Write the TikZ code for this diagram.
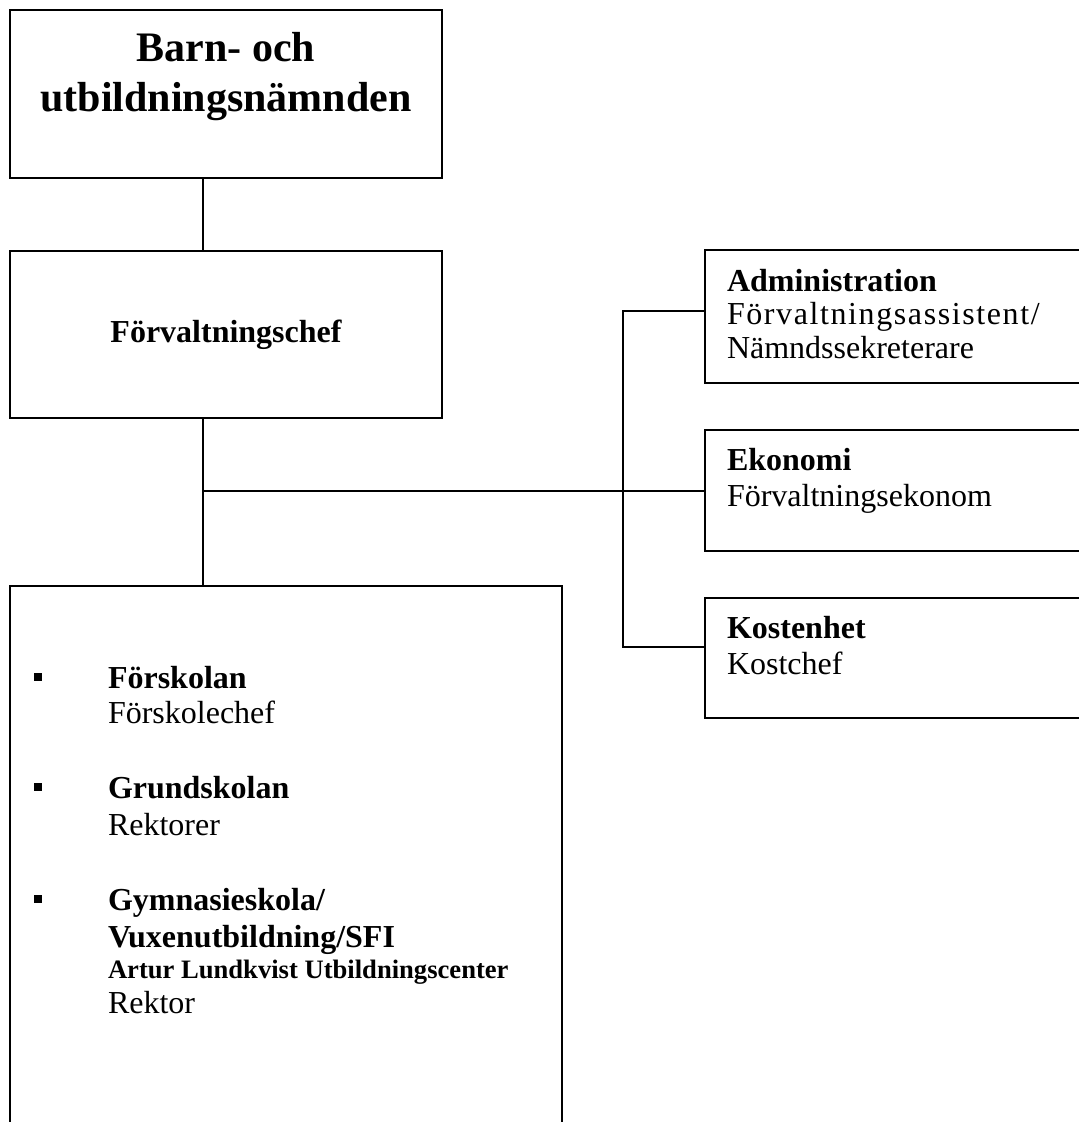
\documentclass[tikz,border=0pt]{standalone}
\usepackage{fontspec}
\setmainfont{Liberation Serif}
\newfontfamily\gles[LetterSpace=5]{Liberation Serif}
\newcommand{\rubrik}{\fontsize{21}{25}\selectfont\bfseries}
\newcommand{\brod}{\fontsize{16}{18}\selectfont}
\newcommand{\liten}{\fontsize{13.3}{15}\selectfont\bfseries}
\tikzset{
	ruta/.style={draw, line width=1pt, inner sep=0pt, outer sep=0pt, anchor=north west},
	rad/.style={anchor=base west, inner sep=0pt, font=\brod},
	fet/.style={anchor=base west, inner sep=0pt, font=\brod\bfseries},
	punkt/.style={fill, minimum size=4pt, inner sep=0pt},
}

\begin{document}
\begin{tikzpicture}[x=0.5pt, y=-0.5pt, line width=1pt]
	\useasboundingbox (0,0) rectangle (1079,1122);
	\clip (0,0) rectangle (1079,1122);
	% nämnd och chef
	\node[ruta, minimum width=216pt, minimum height=84pt] (namnd) at (10,10) {};
	\node[anchor=base, font=\rubrik] (namnd1) at (226,62) {Barn- och};
	\node[anchor=base, font=\rubrik] (namnd2) at (226,112) {utbildningsnämnden};
	\node[ruta, minimum width=216pt, minimum height=83.5pt, font=\brod\bfseries] (chef) at (10,251) {Förvaltningschef};
	% skolor
	\node[ruta, minimum width=276pt, minimum height=280pt] (skolor) at (10,586) {};
	\node[punkt] (p1) at (38,677) {};
	\node[punkt] (p2) at (38,787) {};
	\node[punkt] (p3) at (38,899) {};
	\node[fet] (fsk) at (107,688) {Förskolan};
	\node[rad] (fskchef) at (107,723) {Förskolechef};
	\node[fet] (gsk) at (107,798) {Grundskolan};
	\node[rad] (rektorer) at (107,835) {Rektorer};
	\node[fet] (gym) at (107,910) {Gymnasieskola/};
	\node[fet] (vux) at (107,947) {Vuxenutbildning/SFI};
	\node[anchor=base west, inner sep=0pt, font=\liten] (alu) at (107,978) {Artur Lundkvist Utbildningscenter};
	\node[rad] (rektor) at (107,1013) {Rektor};
	% stab
	\node[ruta, minimum width=200pt, minimum height=66.5pt] (admin) at (705,250) {};
	\node[fet] (admin1) at (726,292) {Administration};
	\node[rad, font=\brod\gles] (admin2) at (726,325) {Förvaltningsassistent/};
	\node[rad] (admin3) at (726,359) {Nämndssekreterare};
	\node[ruta, minimum width=200pt, minimum height=60.5pt] (eko) at (705,430) {};
	\node[fet] (eko1) at (726,470) {Ekonomi};
	\node[rad] (eko2) at (726,506) {Förvaltningsekonom};
	\node[ruta, minimum width=200pt, minimum height=60pt] (kost) at (705,598) {};
	\node[fet] (kost1) at (726,638) {Kostenhet};
	\node[rad] (kost2) at (726,674) {Kostchef};
	% linjer
	\coordinate (stam) at (203,0);
	\coordinate (buss1) at (623,311);
	\coordinate (buss2) at (623,647);
	\draw (namnd.south -| stam) -- (chef.north -| stam);
	\draw (chef.south -| stam) -- (skolor.north -| stam);
	\draw (stam |- eko.west) -- (eko.west);
	\draw (admin.west |- buss1) -- (buss1) -- (buss2) -- (kost.west |- buss2);
\end{tikzpicture}
\end{document}
